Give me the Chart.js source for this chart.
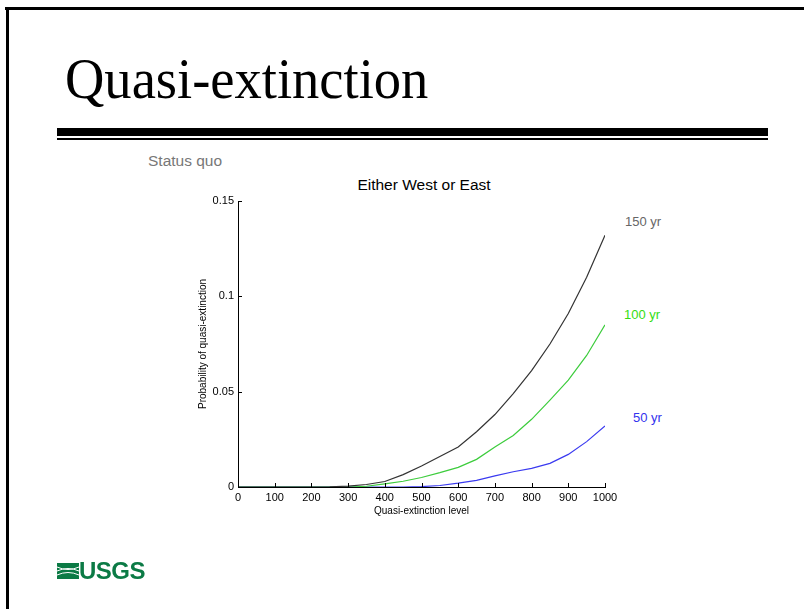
<!DOCTYPE html>
<html>
<head>
<meta charset="utf-8">
<script src="https://cdn.jsdelivr.net/npm/chart.js@4"></script>
<style>
  html, body { margin: 0; padding: 0; background: #fff; }
  body { width: 804px; height: 609px; position: relative; overflow: hidden; font-family: "Liberation Sans", Arial, sans-serif; }
  .frameTop { position: absolute; left: 5px; top: 7px; width: 810px; height: 3px; background: #000; }
  .frameLeft { position: absolute; left: 6px; top: 7px; width: 3px; height: 620px; background: #000; }
  .title { position: absolute; left: 65px; top: 44px; font-family: "Liberation Serif", "Times New Roman", serif; font-size: 58px; line-height: 70px; color: #000; transform: scaleX(0.94); transform-origin: left top; white-space: nowrap; }
  .ruleThick { position: absolute; left: 57px; top: 128px; width: 711px; height: 8px; background: #000; }
  .ruleThin { position: absolute; left: 57px; top: 138px; width: 711px; height: 2px; background: #000; }
  .status { position: absolute; left: 148px; top: 152px; font-size: 15.5px; color: #777; }
  .chartTitle { position: absolute; left: 300px; width: 248px; top: 176px; text-align: center; font-size: 15.5px; color: #000; }
  .lab { position: absolute; font-size: 13px; white-space: nowrap; }
  #c { position: absolute; left: 0; top: 0; }
  .logo { position: absolute; left: 57px; top: 559px; display: flex; align-items: center; }
  .logo span { font-family: "Liberation Sans Narrow", "Liberation Sans", Arial, sans-serif; font-weight: bold; font-size: 24px; color: #0b7a45; letter-spacing: -0.5px; line-height: 24px; }
</style>
</head>
<body>
<div class="frameTop"></div>
<div class="frameLeft"></div>
<div class="title">Quasi-extinction</div>
<div class="ruleThick"></div>
<div class="ruleThin"></div>
<div class="status">Status quo</div>
<div class="chartTitle">Either West or East</div>
<div class="lab" style="left:625px; top:214px; color:#666;">150 yr</div>
<div class="lab" style="left:624px; top:307px; color:#33dd11;">100 yr</div>
<div class="lab" style="left:633px; top:410px; color:#3333ee;">50 yr</div>
<canvas id="c" width="804" height="609"></canvas>
<div class="logo">
  <svg width="22" height="16" viewBox="0 0 22 16">
    <rect x="0" y="0" width="22" height="16" fill="#0b7a45"/>
    <path d="M0 4 Q11 9 22 4 M0 8 Q11 3 22 8 M0 12 Q11 7 22 12" stroke="#fff" stroke-width="1" fill="none"/>
  </svg>
  <span>USGS</span>
</div>
<script>
const xLevels = [0, 50, 100, 150, 200, 250, 300, 350, 400, 450, 500, 550, 600, 650, 700, 750, 800, 850, 900, 950, 1000];
const yr150 = [0, 0, 0, 0, 0, 0.0001, 0.0005, 0.0013, 0.0029, 0.0065, 0.011, 0.016, 0.021, 0.029, 0.038, 0.049, 0.061, 0.075, 0.091, 0.110, 0.132];
const yr100 = [0, 0, 0, 0, 0, 0, 0, 0.0004, 0.0016, 0.003, 0.005, 0.0075, 0.0103, 0.0145, 0.021, 0.027, 0.0355, 0.0456, 0.056, 0.069, 0.085];
const yr50 = [0, 0, 0, 0, 0, 0, 0, 0, 0, 0, 0.0002, 0.0008, 0.002, 0.0035, 0.0058, 0.008, 0.0098, 0.0124, 0.0171, 0.0238, 0.032];
const xTickLabels = ['0', '100', '200', '300', '400', '500', '600', '700', '800', '900', '1000'];
const yTickLabels = ['0', '0.05', '0.1', '0.15'];

function pts(vals) {
    return xLevels.map((x, i) => ({ x: x, y: vals[i] }));
}

// ticks pointing into the plot, like the original
const innerTicks = {
    id: 'innerTicks',
    afterDraw(chart) {
        const ctx = chart.ctx;
        const xs = chart.scales.x, ys = chart.scales.y;
        const area = chart.chartArea;
        ctx.save();
        ctx.strokeStyle = '#000';
        ctx.lineWidth = 1;
        ctx.beginPath();
        xs.ticks.forEach(t => {
            const px = Math.round(xs.getPixelForValue(t.value)) + 0.5;
            ctx.moveTo(px, area.bottom);
            ctx.lineTo(px, area.bottom - 4);
        });
        ys.ticks.forEach(t => {
            const py = Math.round(ys.getPixelForValue(t.value)) + 0.5;
            ctx.moveTo(area.left, py);
            ctx.lineTo(area.left + 4, py);
        });
        ctx.stroke();
        ctx.restore();
    }
};

new Chart(document.getElementById('c'), {
    type: 'line',
    data: {
        datasets: [
            { label: '150 yr', data: pts(yr150), borderColor: '#333333', borderWidth: 1.2 },
            { label: '100 yr', data: pts(yr100), borderColor: '#3ccc3c', borderWidth: 1.2 },
            { label: '50 yr', data: pts(yr50), borderColor: '#3a3af0', borderWidth: 1.2 }
        ]
    },
    options: {
        responsive: false,
        animation: false,
        events: [],
        elements: { point: { radius: 0 }, line: { tension: 0 } },
        layout: { padding: { left: 190, right: 199, top: 201, bottom: 92 } },
        plugins: { legend: { display: false }, tooltip: { enabled: false }, title: { display: false } },
        scales: {
            x: {
                type: 'linear', min: 0, max: 1000,
                grid: { display: false, drawTicks: false },
                border: { display: true, color: '#000', width: 1 },
                afterFit: s => { s.height = 30; },
                ticks: {
                    stepSize: 100, autoSkip: false, maxRotation: 0, padding: 4,
                    color: '#000', font: { family: 'Liberation Sans, Arial', size: 11 },
                    callback: (v) => xTickLabels[Math.round(v / 100)]
                },
                title: {
                    display: true, text: 'Quasi-extinction level', color: '#000',
                    font: { family: 'Liberation Sans, Arial', size: 10 },
                    padding: { top: 0, bottom: 0 }
                }
            },
            y: {
                min: 0, max: 0.15,
                grid: { display: false, drawTicks: false },
                border: { display: true, color: '#000', width: 1 },
                afterFit: s => { s.width = 48; },
                ticks: {
                    stepSize: 0.05, padding: 4,
                    color: '#000', font: { family: 'Liberation Sans, Arial', size: 11 },
                    callback: (v) => yTickLabels[Math.round(v / 0.05)]
                },
                title: {
                    display: true, text: 'Probability of quasi-extinction', color: '#000',
                    font: { family: 'Liberation Sans, Arial', size: 10 },
                    padding: { top: 7, bottom: 0 }
                }
            }
        }
    },
    plugins: [innerTicks]
});
</script>
</body>
</html>
